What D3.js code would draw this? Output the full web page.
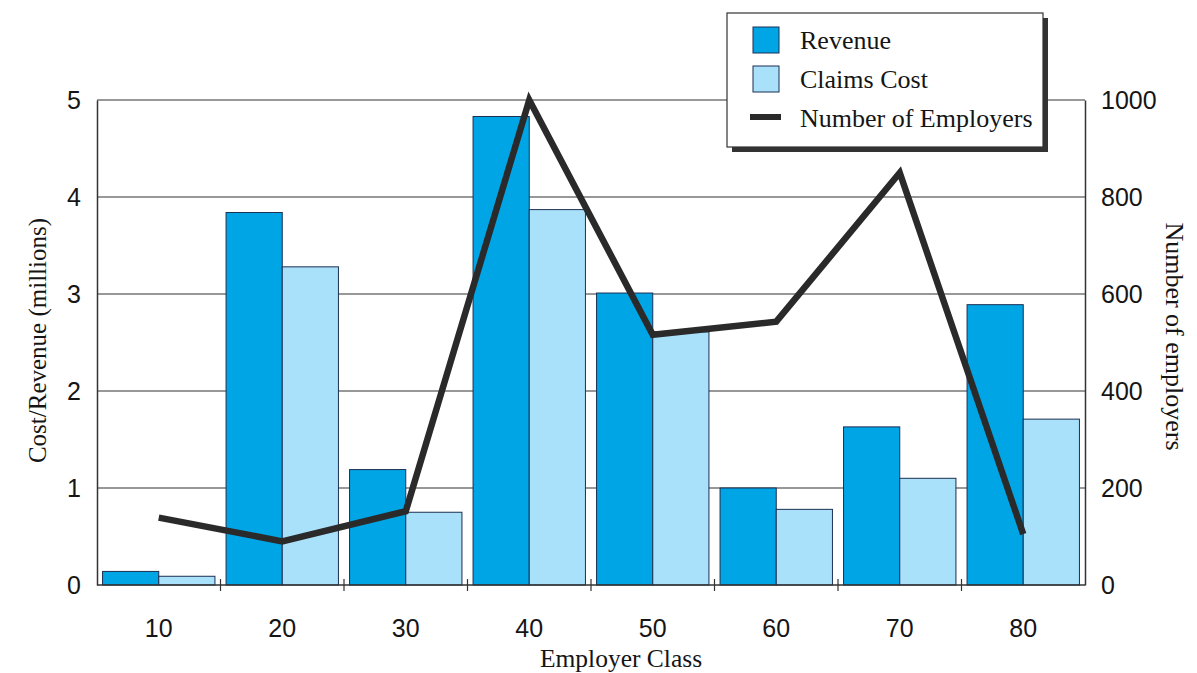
<!DOCTYPE html>
<html>
<head>
<meta charset="utf-8">
<script src="https://cdn.jsdelivr.net/npm/d3@7"></script>
<style>
  html, body { margin: 0; padding: 0; background: #fff; }
  svg { display: block; }
</style>
</head>
<body>
<svg id="chart" width="1197" height="673"></svg>
<script>
// Employer classes along the x axis
const classes = ["10", "20", "30", "40", "50", "60", "70", "80"];
// Revenue and claims cost per class, in millions
const revenue = [0.14, 3.84, 1.19, 4.83, 3.01, 1.00, 1.63, 2.89];
const claimsCost = [0.09, 3.28, 0.75, 3.87, 2.61, 0.78, 1.10, 1.71];
// Number of employers in each class (right axis)
const employers = [139, 90, 152, 1000, 516, 543, 850, 105];
// Tick values
const leftTicks = [0, 1, 2, 3, 4, 5];
const rightTicks = [0, 200, 400, 600, 800, 1000];

const svg = d3.select("#chart");
const plotLeft = 97, plotRight = 1085, plotTop = 100, plotBottom = 585;

const x0 = d3.scaleBand().domain(classes).range([plotLeft, plotRight])
  .paddingInner(0.09).paddingOuter(0.045);
const x1 = d3.scaleBand().domain(["revenue", "claims"]).range([0, x0.bandwidth()]);
const y = d3.scaleLinear().domain([0, 5]).range([plotBottom, plotTop]);
const y2 = d3.scaleLinear().domain([0, 1000]).range([plotBottom, plotTop]);

const sansFont = "Liberation Sans, Arial, sans-serif";
const serifFont = "Liberation Serif, Times New Roman, serif";
const textColor = "#151515";

// Horizontal gridlines
svg.append("g").selectAll("line")
  .data(leftTicks.filter(d => d > 0))
  .join("line")
  .attr("x1", plotLeft).attr("x2", plotRight)
  .attr("y1", d => y(d)).attr("y2", d => y(d))
  .attr("stroke", "#333").attr("stroke-width", 1.2);

// Grouped bars
const seriesColors = { revenue: "#00a5e6", claims: "#a9e1fa" };
const rows = classes.map((c, i) => ({ c, revenue: revenue[i], claims: claimsCost[i] }));
const groups = svg.append("g").selectAll("g")
  .data(rows).join("g")
  .attr("transform", d => `translate(${x0(d.c)},0)`);
groups.selectAll("rect")
  .data(d => ["revenue", "claims"].map(k => ({ k, v: d[k] })))
  .join("rect")
  .attr("x", d => x1(d.k))
  .attr("y", d => y(d.v))
  .attr("width", x1.bandwidth())
  .attr("height", d => y(0) - y(d.v))
  .attr("fill", d => seriesColors[d.k])
  .attr("stroke", "#1c2f52").attr("stroke-width", 1);

// Left axis
const gLeft = svg.append("g").attr("transform", `translate(${plotLeft},0)`)
  .call(d3.axisLeft(y).tickValues(leftTicks).tickFormat(d3.format("d"))
    .tickSize(0).tickPadding(16).tickSizeOuter(0));
gLeft.select(".domain").attr("stroke", "#333").attr("stroke-width", 1.5);
gLeft.selectAll("text").attr("font-family", sansFont).attr("font-size", 25).attr("fill", textColor);

// Right axis
const gRight = svg.append("g").attr("transform", `translate(${plotRight},0)`)
  .call(d3.axisRight(y2).tickValues(rightTicks).tickFormat(d3.format("d"))
    .tickSize(0).tickPadding(16).tickSizeOuter(0));
gRight.select(".domain").attr("stroke", "#333").attr("stroke-width", 1.5);
gRight.selectAll("text").attr("font-family", sansFont).attr("font-size", 25).attr("fill", textColor);

// Bottom axis labels
const gBottom = svg.append("g").attr("transform", `translate(0,${plotBottom})`)
  .call(d3.axisBottom(x0).tickSize(0).tickPadding(34).tickSizeOuter(0));
gBottom.select(".domain").remove();
gBottom.selectAll("text").attr("font-family", sansFont).attr("font-size", 25).attr("fill", textColor);

// Baseline
svg.append("line")
  .attr("x1", plotLeft).attr("x2", plotRight).attr("y1", plotBottom).attr("y2", plotBottom)
  .attr("stroke", "#333").attr("stroke-width", 1.5);

// Class separators on the baseline
const gap = x0.step() * x0.paddingInner() / 2;
svg.append("g").selectAll("line")
  .data(classes.slice(1))
  .join("line")
  .attr("x1", d => x0(d) - gap).attr("x2", d => x0(d) - gap)
  .attr("y1", plotBottom - 6).attr("y2", plotBottom + 6)
  .attr("stroke", "#333").attr("stroke-width", 1.2);

// Number of employers line
const line = d3.line()
  .x((d, i) => x0(classes[i]) + x0.bandwidth() / 2)
  .y(d => y2(d));
svg.append("path")
  .datum(employers)
  .attr("d", line)
  .attr("fill", "none")
  .attr("stroke", "#2a2a2a")
  .attr("stroke-width", 6.5)
  .attr("stroke-linejoin", "miter")
  .attr("stroke-miterlimit", 10);

// Axis titles
svg.append("text")
  .attr("transform", `translate(46,${(plotTop + plotBottom) / 2 - 2}) rotate(-90)`)
  .attr("text-anchor", "middle")
  .attr("font-family", serifFont).attr("font-size", 25).attr("fill", textColor)
  .text("Cost/Revenue (millions)");
svg.append("text")
  .attr("transform", `translate(1166,${(plotTop + plotBottom) / 2 - 6}) rotate(90)`)
  .attr("text-anchor", "middle")
  .attr("font-family", serifFont).attr("font-size", 26).attr("fill", textColor)
  .text("Number of employers");
svg.append("text")
  .attr("x", 621).attr("y", 667)
  .attr("text-anchor", "middle")
  .attr("font-family", serifFont).attr("font-size", 25.5).attr("fill", textColor)
  .text("Employer Class");

// Legend
const legend = svg.append("g").attr("transform", "translate(727,13)");
legend.append("rect").attr("x", 5).attr("y", 5).attr("width", 316).attr("height", 134).attr("fill", "#333");
legend.append("rect").attr("width", 316).attr("height", 134).attr("fill", "#fff")
  .attr("stroke", "#333").attr("stroke-width", 1.2);
const legendItems = [
  { label: "Revenue", type: "rect", color: seriesColors.revenue },
  { label: "Claims Cost", type: "rect", color: seriesColors.claims },
  { label: "Number of Employers", type: "line", color: "#2a2a2a" }
];
legendItems.forEach((item, i) => {
  const cy = 27 + i * 39;
  if (item.type === "rect") {
    legend.append("rect").attr("x", 26).attr("y", cy - 13).attr("width", 26).attr("height", 26)
      .attr("fill", item.color).attr("stroke", "#1c2f52").attr("stroke-width", 1);
  } else {
    legend.append("line").attr("x1", 23).attr("x2", 54).attr("y1", cy - 1).attr("y2", cy - 1)
      .attr("stroke", item.color).attr("stroke-width", 6);
  }
  legend.append("text").attr("x", 73).attr("y", cy + 9)
    .attr("font-family", serifFont).attr("font-size", 26).attr("fill", textColor)
    .text(item.label);
});
</script>
</body>
</html>
